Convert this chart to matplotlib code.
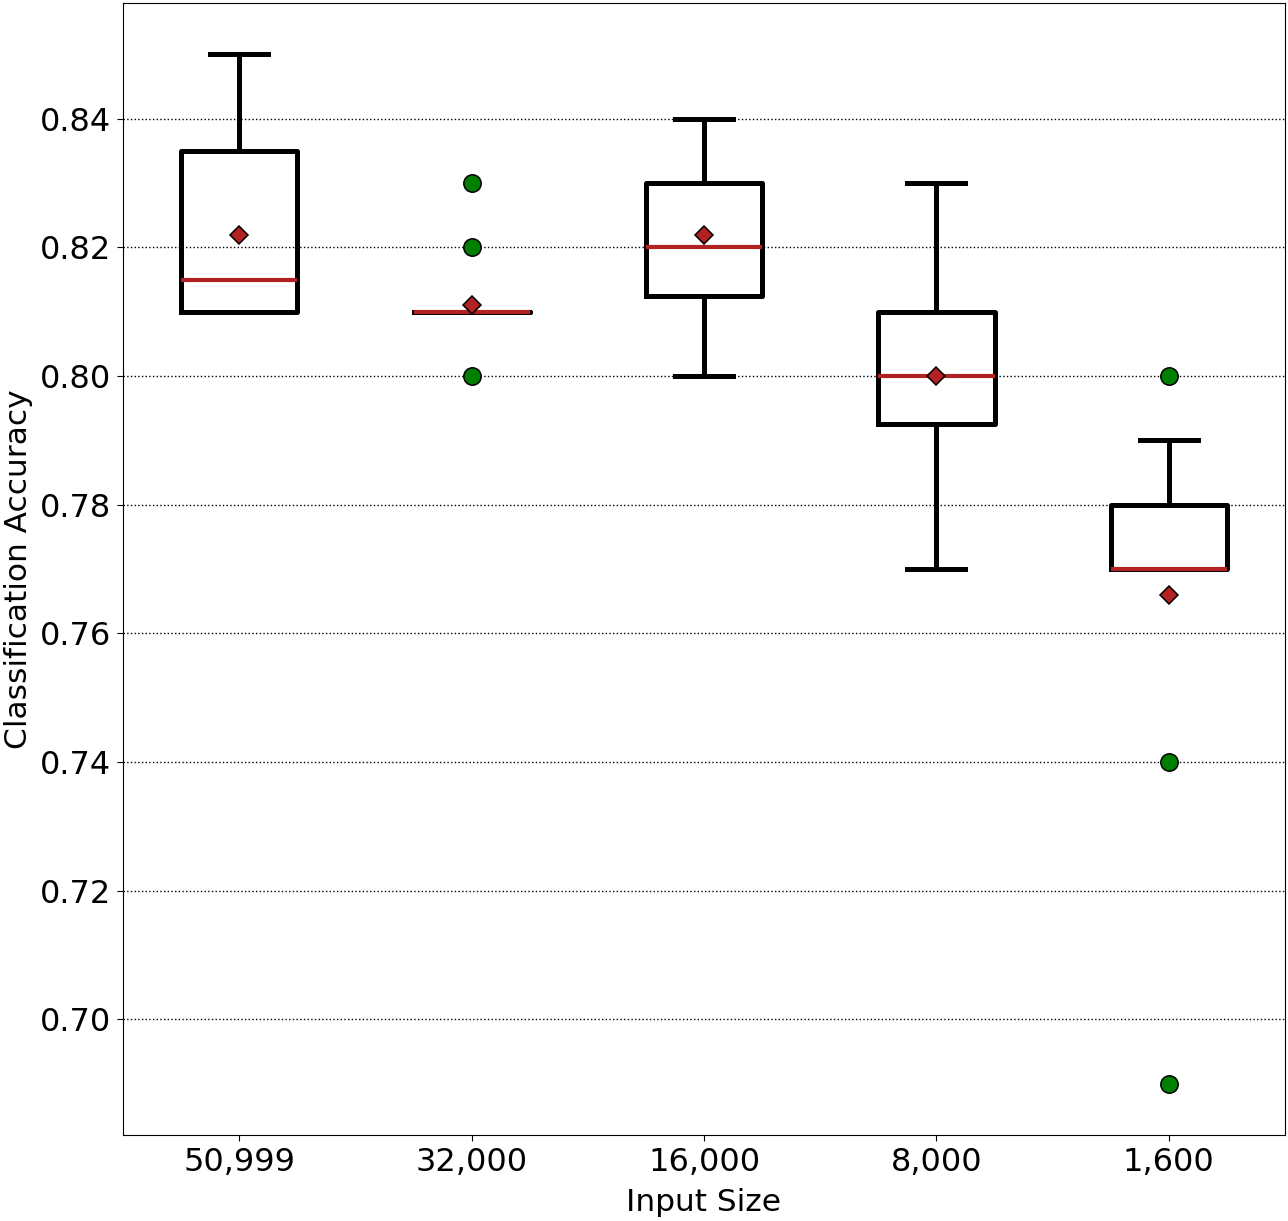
import matplotlib
matplotlib.use("Agg")
import matplotlib.pyplot as plt

categories = ["50,999", "32,000", "16,000", "8,000", "1,600"]
medians = [0.815, 0.810, 0.820, 0.800, 0.770]
q1 = [0.810, 0.810, 0.8125, 0.7925, 0.770]
q3 = [0.835, 0.810, 0.830, 0.810, 0.780]
whisker_low = [0.810, 0.810, 0.800, 0.770, 0.770]
whisker_high = [0.850, 0.810, 0.840, 0.830, 0.790]
means = [0.822, 0.811, 0.822, 0.800, 0.766]
outliers = [[], [0.83, 0.82, 0.80], [], [], [0.80, 0.74, 0.69]]

stats = []
for i, lab in enumerate(categories):
    stats.append(dict(med=medians[i], q1=q1[i], q3=q3[i],
                      whislo=whisker_low[i], whishi=whisker_high[i],
                      mean=means[i], fliers=outliers[i], label=lab))

fig = plt.figure(figsize=(12.88, 12.21), dpi=100)
ax = fig.add_axes([123/1288, 86/1221, (1285-123)/1288, (1135-3)/1221])

ax.bxp(stats, showmeans=True, widths=0.5,
       boxprops=dict(color="black", linewidth=3.6),
       whiskerprops=dict(color="black", linewidth=3.6),
       capprops=dict(color="black", linewidth=3.6),
       medianprops=dict(color="firebrick", linewidth=3.0),
       meanprops=dict(marker="D", markerfacecolor="firebrick",
                      markeredgecolor="black", markersize=9, markeredgewidth=1.1),
       flierprops=dict(marker="o", markerfacecolor="green",
                       markeredgecolor="black", markersize=12.5, markeredgewidth=1.1))

ax.set_axisbelow(True)
ax.yaxis.grid(True, linestyle=":", color="black", linewidth=1.0)
ax.tick_params(axis="both", labelsize=23, length=4.5, pad=4)
ax.set_xlabel("Input Size", fontsize=22.5)
ax.set_ylabel("Classification Accuracy", fontsize=22.5)
ax.xaxis.set_label_coords(0.5, -0.0465)
ax.yaxis.set_label_coords(-0.0775, 0.5)

fig.savefig("out.png", dpi=100)
